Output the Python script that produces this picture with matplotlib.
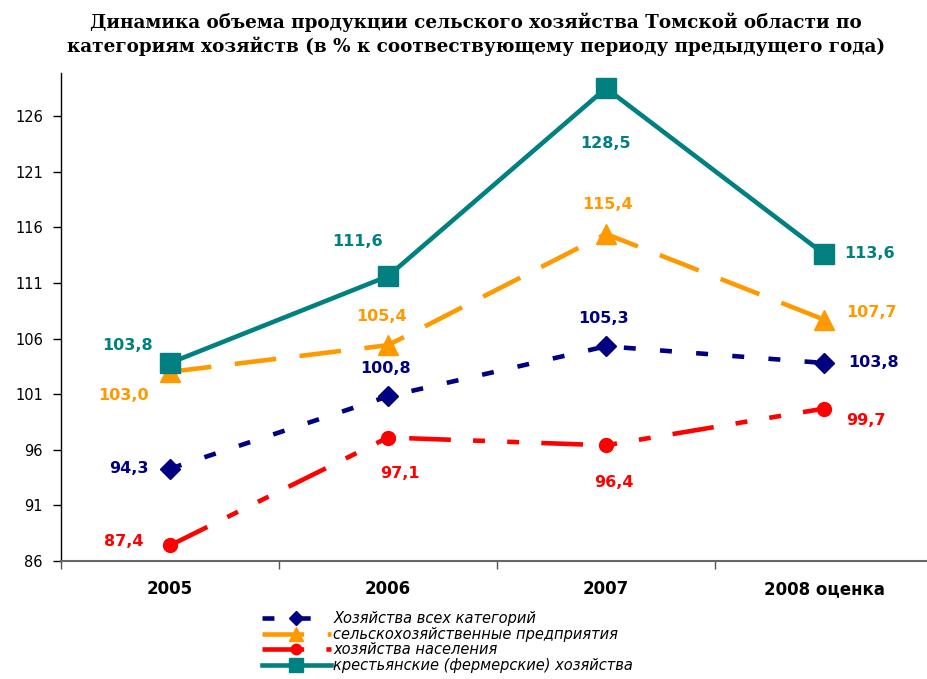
import matplotlib
matplotlib.use('Agg')
import matplotlib.pyplot as plt

plt.rcParams['lines.scale_dashes'] = False

# data
years = ['2005', '2006', '2007', '2008 оценка']
all_cat = [94.3, 100.8, 105.3, 103.8]
agri_ent = [103.0, 105.4, 115.4, 107.7]
households = [87.4, 97.1, 96.4, 99.7]
farms = [103.8, 111.6, 128.5, 113.6]

series_names = ['Хозяйства всех категорий',
                'сельскохозяйственные предприятия',
                'хозяйства населения',
                'крестьянские (фермерские) хозяйства']

title = ('Динамика объема продукции сельского хозяйства Томской области по\n'
         'категориям хозяйств (в % к соотвествующему периоду предыдущего года)')

yticks = [86, 91, 96, 101, 106, 111, 116, 121, 126]

# label offsets (pixels) for each point
off_all = [(-41, 0), (-2, 28), (-2, 28), (50, 0)]
off_agri = [(-46, -24), (-7, 29), (2, 29), (48, 7)]
off_house = [(-46, 4), (12, -36), (8, -37), (42, -12)]
off_farm = [(-42, 17), (-30, 35), (0, -55), (46, 0)]

navy = '#000080'
orange = '#FF9900'
red = '#FF0000'
teal = '#008080'

fig = plt.figure(figsize=(9.28, 6.79), dpi=100)
ax = fig.add_axes([61 / 928, 118 / 679, 872 / 928, 488 / 679])

x = list(range(len(years)))
lw = 3.3
l1, = ax.plot(x, all_cat, color=navy, lw=lw, dashes=(8.6, 17.5),
              marker='D', ms=10, zorder=3)
l2, = ax.plot(x, agri_ent, color=orange, lw=lw, dashes=(30, 17),
              marker='^', ms=14, zorder=3)
l3, = ax.plot(x, households, color=red, lw=lw, dashes=(30, 16, 8.6, 16, 8.6, 16),
              marker='o', ms=10, zorder=3)
l4, = ax.plot(x, farms, color=teal, lw=lw, marker='s', ms=14, zorder=4)

def put_labels(vals, offs, color):
    for i, v in enumerate(vals):
        ax.annotate(f'{v:.1f}'.replace('.', ','), (i, v), xytext=offs[i],
                    textcoords='offset pixels', ha='center', va='center',
                    color=color, fontsize=11.5, fontweight='bold',
                    family='DejaVu Sans', zorder=5)

put_labels(all_cat, off_all, navy)
put_labels(agri_ent, off_agri, orange)
put_labels(households, off_house, red)
put_labels(farms, off_farm, teal)

ax.set_xlim(-0.5, 3.5)
ax.set_ylim(86, 86 + 488 / 11.125)
ax.set_yticks(yticks)
ax.set_yticklabels([str(t) for t in yticks], fontsize=10.5)
ax.set_xticks(x)
ax.set_xticklabels(years, fontsize=12, fontweight='bold')
ax.set_xticks([-0.5, 0.5, 1.5, 2.5], minor=True)
ax.tick_params(axis='x', which='major', length=0, pad=14)
ax.tick_params(axis='x', which='minor', length=6, width=1, color='#555555')
ax.tick_params(axis='y', length=6, width=1, pad=7)
for s in ['top', 'right']:
    ax.spines[s].set_visible(False)
ax.spines['left'].set_linewidth(1)
ax.spines['bottom'].set_color('#666666')
ax.spines['bottom'].set_linewidth(1.5)

fig.text(476 / 928, 1 - 12 / 679, title, ha='center', va='top',
         family='DejaVu Serif', fontweight='bold', fontsize=13.2, linespacing=1.3)

leg = fig.legend([l1, l2, l3, l4], series_names, loc='upper left',
                 bbox_to_anchor=(262 / 928, 1 - 611 / 679), frameon=False,
                 borderpad=0, borderaxespad=0, handlelength=4.7,
                 handletextpad=0.2, labelspacing=0.05, markerscale=0.75,
                 prop={'family': 'DejaVu Sans', 'style': 'italic', 'size': 10.5})

fig.savefig('out.png', dpi=100)
